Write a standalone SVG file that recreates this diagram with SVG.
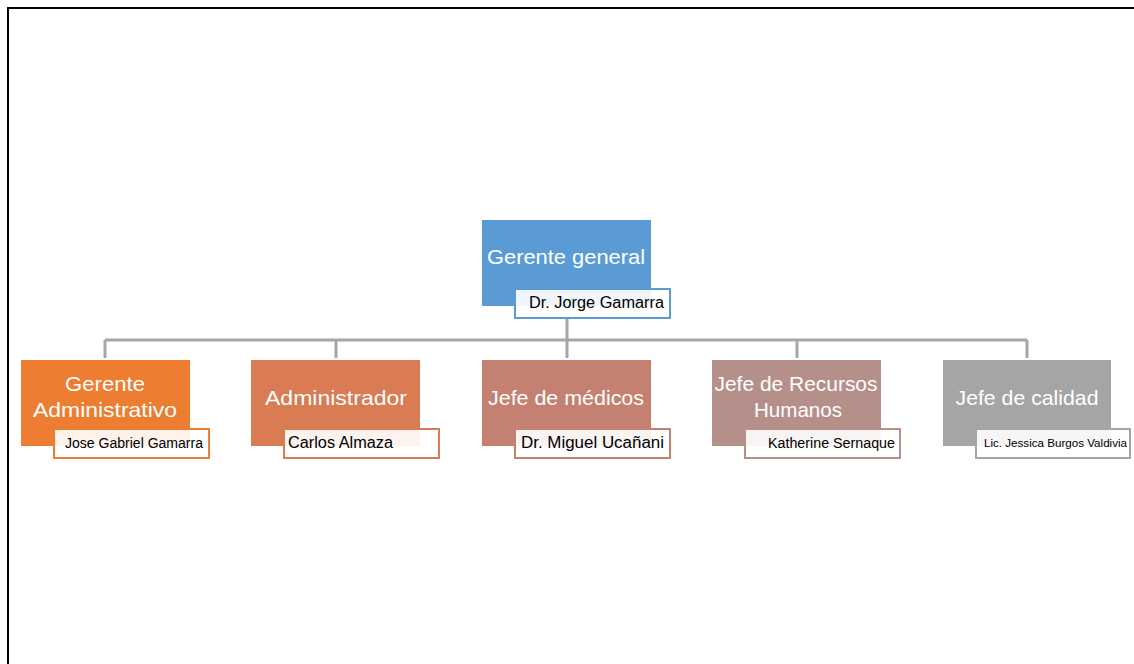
<svg xmlns="http://www.w3.org/2000/svg" width="1134" height="664" viewBox="0 0 1134 664">
<style>
.lbl{font-family:"Liberation Sans",Arial,sans-serif;font-size:21px;fill:#fff;text-anchor:middle}
.nm{font-family:"Liberation Sans",Arial,sans-serif;fill:#000}
.nb{fill:#fff;fill-opacity:0.9;stroke-width:2}
.conn{stroke:#a6a6a6;stroke-width:3;fill:none}
</style>
<rect width="1134" height="664" fill="#fff"/>
<path d="M8,664 V8 H1134" fill="none" stroke="#000" stroke-width="2"/>
<g id="connectors">
<path class="conn" d="M567,318 V340 M105,340 H1027 M105,340 V358 M336,340 V358 M567,340 V358 M797,340 V358 M1027,340 V358"/>
</g>
<g id="gerente-general">
<rect x="482" y="220" width="169" height="86" fill="#5b9bd5"/>
<text class="lbl" x="566" y="264" textLength="158" lengthAdjust="spacingAndGlyphs">Gerente general</text>
<rect class="nb" x="515" y="289" width="155" height="29" stroke="#5b9bd5"/>
<text class="nm" x="529" y="308" font-size="16" textLength="135" lengthAdjust="spacingAndGlyphs">Dr. Jorge Gamarra</text>
</g>
<g id="gerente-administrativo">
<rect x="21" y="360" width="169" height="86" fill="#ed7d31"/>
<text class="lbl" x="105" y="391" textLength="80" lengthAdjust="spacingAndGlyphs">Gerente</text>
<text class="lbl" x="105" y="417" textLength="144" lengthAdjust="spacingAndGlyphs">Administrativo</text>
<rect class="nb" x="54" y="429" width="155" height="29" stroke="#ed7d31"/>
<text class="nm" x="65" y="448" font-size="14" textLength="138" lengthAdjust="spacingAndGlyphs">Jose Gabriel Gamarra</text>
</g>
<g id="administrador">
<rect x="251" y="360" width="169" height="86" fill="#d97b53"/>
<text class="lbl" x="336" y="405" textLength="142" lengthAdjust="spacingAndGlyphs">Administrador</text>
<rect class="nb" x="284" y="429" width="155" height="29" stroke="#d97b53"/>
<text class="nm" x="288" y="448" font-size="16" textLength="105" lengthAdjust="spacingAndGlyphs">Carlos Almaza</text>
</g>
<g id="jefe-medicos">
<rect x="482" y="360" width="169" height="86" fill="#c48172"/>
<text class="lbl" x="566" y="405" textLength="156" lengthAdjust="spacingAndGlyphs">Jefe de médicos</text>
<rect class="nb" x="515" y="429" width="155" height="29" stroke="#c48172"/>
<text class="nm" x="521" y="448" font-size="16" textLength="143" lengthAdjust="spacingAndGlyphs">Dr. Miguel Ucañani</text>
</g>
<g id="jefe-rrhh">
<rect x="712" y="360" width="169" height="86" fill="#b5908a"/>
<text class="lbl" x="796" y="391" textLength="163" lengthAdjust="spacingAndGlyphs">Jefe de Recursos</text>
<text class="lbl" x="798" y="417" textLength="88" lengthAdjust="spacingAndGlyphs">Humanos</text>
<rect class="nb" x="745" y="429" width="155" height="29" stroke="#b5908a"/>
<text class="nm" x="768" y="448" font-size="14" textLength="127" lengthAdjust="spacingAndGlyphs">Katherine Sernaque</text>
</g>
<g id="jefe-calidad">
<rect x="943" y="360" width="168" height="86" fill="#a5a5a5"/>
<text class="lbl" x="1027" y="405" textLength="143" lengthAdjust="spacingAndGlyphs">Jefe de calidad</text>
<rect class="nb" x="976" y="429" width="154" height="29" stroke="#a5a5a5"/>
<text class="nm" x="984" y="447" font-size="11.5" textLength="143" lengthAdjust="spacingAndGlyphs">Lic. Jessica Burgos Valdivia</text>
</g>
</svg>
